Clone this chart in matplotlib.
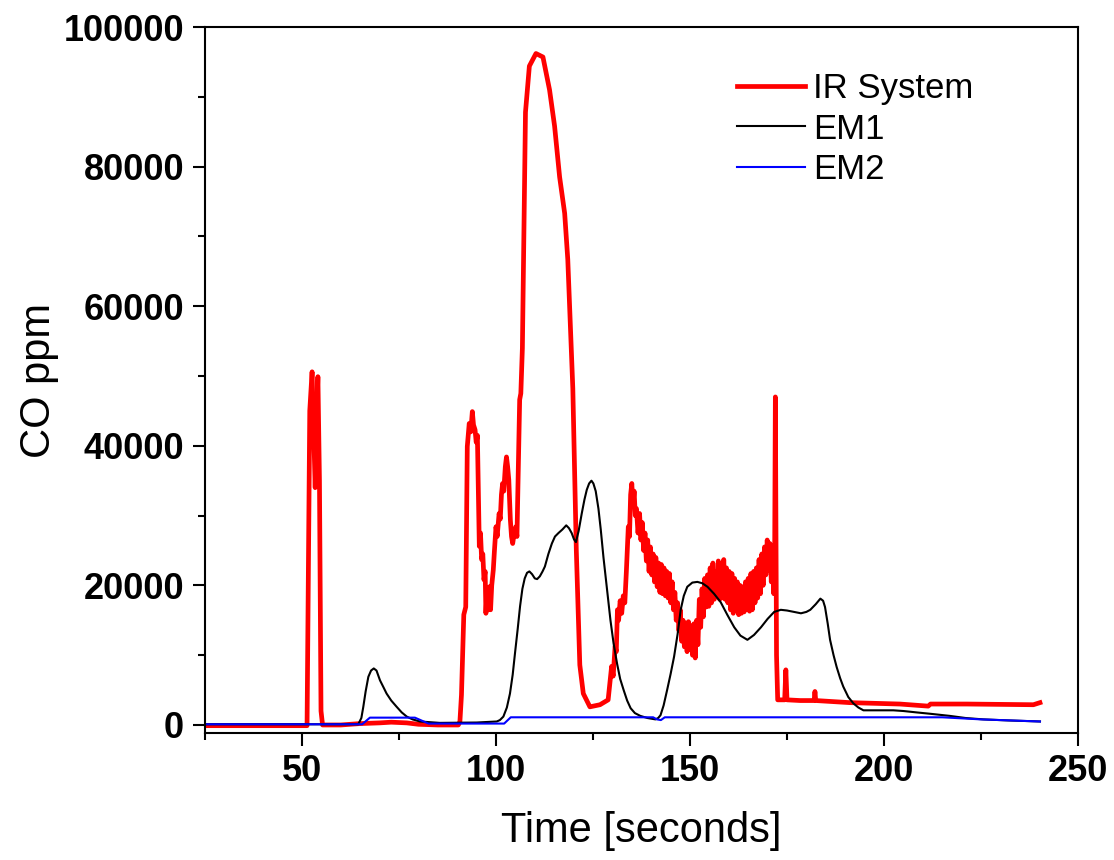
import matplotlib
matplotlib.use("Agg")
import matplotlib.pyplot as plt
from matplotlib.ticker import MultipleLocator

# ---------------- data (time in s, CO in ppm) ----------------
# IR System (values in thousands of ppm)
ir_time = [25, 51.3, 51.6, 52.0, 52.6, 53.0, 53.4, 53.8, 54.1, 54.5,
           54.9, 55.3, 60, 65, 70, 73, 77, 80, 85, 90.3,
           90.7, 91.1, 91.7, 92.2, 92.6, 93.1, 93.5, 93.9, 94.2, 94.6,
           94.9, 95.2, 95.7, 96.0, 96.3, 96.6, 96.9, 97.2, 97.4, 97.7,
           98.0, 98.3, 98.6, 98.9, 99.3, 99.6, 100.0, 100.3, 100.8, 101.1,
           101.4, 101.7, 102.0, 102.4, 102.7, 103.0, 103.3, 103.7, 104.0, 104.3,
           104.7, 105.1, 105.4, 105.7, 106.1, 106.4, 106.8, 107.6, 108.6, 110.3,
           112.1, 113.8, 115.1, 116.4, 117.7, 118.5, 119.8, 120.7, 121.6, 122.5,
           124.2, 126.8, 128.9, 129.8, 130.2, 130.7, 131.0, 131.3, 131.6, 132.0,
           132.4, 132.8, 133.2, 133.6, 134.1, 134.4, 134.7, 135.0, 135.3, 135.6,
           135.9, 136.2, 136.6,
           137.0, 137.35, 137.7, 138.05, 138.4, 138.75, 139.1, 139.45, 139.8, 140.15,
           140.5, 140.85, 141.2, 141.55, 141.9, 142.25, 142.6, 142.95, 143.3, 143.65,
           144.0, 144.35, 144.7, 145.05, 145.4, 145.75, 146.1, 146.45, 146.8, 147.15,
           147.5, 147.85, 148.2, 148.55, 148.9, 149.25, 149.6, 149.95, 150.3, 150.65,
           151.0, 151.35, 151.7, 152.05, 152.4, 152.75, 153.1, 153.45, 153.8, 154.15,
           154.5, 154.85, 155.2, 155.55, 155.9, 156.25, 156.6, 156.95, 157.3, 157.65,
           158.0, 158.35, 158.7, 159.05, 159.4, 159.75, 160.1, 160.45, 160.8, 161.15,
           161.5, 161.85, 162.2, 162.55, 162.9, 163.25, 163.6, 163.95, 164.3, 164.65,
           165.0, 165.35, 165.7, 166.05, 166.4, 166.75, 167.1, 167.45, 167.8, 168.15,
           168.5, 168.85, 169.2, 169.55, 169.9, 170.25, 170.6, 170.95, 171.3, 171.6,
           171.8, 172.0, 172.3, 172.6, 174.4, 174.7, 175.0, 178.4, 182.0, 182.2,
           182.4, 191.2, 204.1, 211.4, 212.0, 221.3, 238.5, 240.2]
ir_co_k = [-0.1, -0.1, 20, 45, 50.6, 42, 34, 45, 49.9, 35,
           2, 0, 0, 0.2, 0.3, 0.4, 0.3, 0.1, 0, 0,
           0.5, 4.3, 15.8, 16.9, 39.9, 43.2, 42.0, 44.9, 43.0, 42.3,
           40.5, 41.5, 25.6, 27.5, 23.7, 24.5, 20.8, 22.0, 16.0, 19.5,
           16.5, 19.8, 16.5, 20.0, 22.2, 25.0, 28.4, 27.0, 30.3, 29.5,
           33.0, 34.6, 33.5, 37.0, 38.4, 37.0, 35.1, 29.4, 27.0, 26.0,
           27.5, 28.4, 27.0, 35.1, 46.6, 47.5, 54.0, 87.8, 94.4, 96.2,
           95.7, 91.0, 85.8, 78.5, 73.3, 66.7, 48.2, 25.0, 8.6, 4.5,
           2.6, 2.9, 3.6, 8.4, 7.0, 11.3, 10.5, 16.5, 15.0, 17.8,
           16.0, 18.5, 17.5, 22.0, 28.4, 27.0, 33.0, 34.6, 31.5, 33.5,
           30.0, 31.0, 27.5,
           30.3, 26.5, 29.0, 25.0, 27.5, 23.5, 26.5, 22.0, 25.5, 21.5,
           24.5, 20.5, 24.0, 19.8, 23.2, 19.0, 23.0, 18.8, 22.5, 18.5,
           22.0, 18.2, 21.7, 17.5, 20.5, 16.5, 19.0, 15.0, 17.5, 13.5,
           16.5, 12.0, 15.0, 11.2, 14.6, 10.5, 14.8, 10.8, 14.2, 10.0,
           14.5, 9.6, 15.0, 11.5, 18.0, 14.0, 19.5, 15.5, 21.0, 16.9,
           21.5, 17.0, 22.5, 17.5, 23.2, 18.0, 22.0, 18.5, 23.5, 18.0,
           22.5, 18.2, 23.7, 18.0, 22.5, 17.5, 22.0, 16.5, 21.7, 16.0,
           21.0, 16.5, 20.5, 15.8, 20.0, 16.0, 19.8, 16.2, 20.5, 16.5,
           21.0, 16.3, 21.7, 16.5, 22.0, 17.5, 22.5, 18.2, 23.7, 18.8,
           24.5, 20.0, 25.5, 21.5, 26.5, 22.2, 26.0, 20.5, 25.0, 18.8,
           22.0, 47.0, 10.0, 3.6, 3.6, 7.9, 3.6, 3.5, 3.5, 4.8,
           3.5, 3.2, 3.0, 2.7, 3.0, 3.0, 2.9, 3.2]

# EM1 (values in thousands of ppm)
em1_time = [25, 64.5, 65.3, 65.8, 66.4, 67.1, 67.8, 68.5, 69.2, 70.1,
            71.0, 71.8, 73.0, 74.4, 75.7, 77.0, 78.5, 80.4, 85.5, 95.0,
            100.2, 101.0, 101.9, 102.8, 103.6, 104.3, 104.9, 105.6, 106.2, 106.8,
            107.4, 108.0, 108.6, 109.3, 110.0, 110.6, 111.3, 112.0, 112.6, 113.5,
            114.4, 115.2, 116.1, 117.1, 118.1, 118.8, 119.5, 120.1, 120.6, 121.3,
            122.1, 122.8, 123.4, 124.0, 124.6, 125.1, 125.7, 126.4, 127.0, 127.7,
            128.6, 129.5, 130.3, 131.2, 132.0, 132.9, 133.8, 134.7, 135.8, 137.2,
            139.0, 141.1, 141.8, 142.4, 143.2, 144.1, 145.0, 145.9, 146.8, 147.6,
            148.4, 149.3, 150.6, 151.9, 153.2, 154.5, 156.2, 157.9, 159.6, 161.4,
            163.0, 164.8, 166.5, 168.3, 170.0, 171.7, 173.4, 175.0, 176.8, 178.6,
            180.0, 181.0, 182.4, 183.6, 184.3, 184.8, 185.5, 186.1, 187.0, 187.8,
            188.7, 189.5, 190.8, 192.1, 193.4, 194.7, 198.0, 202.4, 205.0, 208.4,
            212.0, 217.0, 221.0, 225.6, 232.0, 240.2]
em1_co_k = [0.1, 0.1, 1.0, 2.6, 4.8, 6.9, 7.8, 8.1, 7.8, 6.4,
            5.4, 4.5, 3.5, 2.6, 1.8, 1.2, 0.8, 0.5, 0.3, 0.35,
            0.5, 0.7, 1.2, 2.5, 4.5, 7.2, 10.3, 13.8, 17.0, 19.5,
            21.0, 21.8, 22.0, 21.6, 21.0, 20.9, 21.3, 22.0, 22.7, 24.5,
            26.0, 27.0, 27.5, 28.0, 28.6, 28.2, 27.5, 26.6, 26.2, 27.8,
            30.3, 32.3, 33.7, 34.6, 35.0, 34.6, 33.5, 31.0, 28.0, 24.0,
            19.5, 15.0, 11.7, 8.8, 6.6, 5.0, 3.5, 2.4, 1.7, 1.3,
            1.0, 0.8, 1.0, 1.4, 2.8, 5.0, 7.3, 9.8, 13.0, 16.5,
            18.5, 19.8, 20.4, 20.5, 20.3, 19.8, 18.8, 17.6, 15.8, 14.0,
            12.8, 12.2, 12.9, 14.0, 15.2, 16.2, 16.5, 16.4, 16.2, 16.0,
            16.2, 16.5, 17.3, 18.1, 17.8, 16.9, 14.5, 12.2, 10.0, 8.3,
            6.7, 5.5, 4.0, 3.1, 2.5, 2.1, 2.1, 2.1, 2.0, 1.8,
            1.6, 1.3, 1.0, 0.8, 0.65, 0.5]

# EM2 (values in thousands of ppm)
em2_time = [25, 65.5, 67.5, 79.1, 82.6, 102.1, 103.8, 140.5, 141.5, 142.5,
            143.5, 215, 225, 240.2]
em2_co_k = [0.1, 0.1, 1.05, 1.05, 0.2, 0.2, 1.1, 1.1, 0.8, 0.7,
            1.1, 1.1, 0.8, 0.5]

x_ticks = [50, 100, 150, 200, 250]
y_ticks = [0, 20000, 40000, 60000, 80000, 100000]
labels = ["IR System", "EM1", "EM2"]

ir_co = [v * 1000 for v in ir_co_k]
em1_co = [v * 1000 for v in em1_co_k]
em2_co = [v * 1000 for v in em2_co_k]

# ---------------- figure ----------------
plt.rcParams['font.family'] = ['Liberation Sans', 'DejaVu Sans']
fig = plt.figure(figsize=(11.14, 8.6), dpi=100)
ax = fig.add_axes([205 / 1114, 1 - 733 / 860, (1078 - 205) / 1114, (733 - 27) / 860])

ax.plot(ir_time, ir_co, color='#ff0000', lw=3.4, label=labels[0], solid_joinstyle='round')
ax.plot(em1_time, em1_co, color='black', lw=1.5, label=labels[1])
ax.plot(em2_time, em2_co, color='#0000ff', lw=1.5, label=labels[2])

ax.set_xlim(25, 250)
ax.set_ylim(-1150, 100000)
ax.set_xticks(x_ticks)
ax.set_yticks(y_ticks)
ax.xaxis.set_minor_locator(MultipleLocator(25))
ax.yaxis.set_minor_locator(MultipleLocator(10000))
ax.tick_params(which='major', direction='out', length=9, width=1.5, labelsize=26, pad=6)
ax.tick_params(which='minor', direction='out', length=5, width=1.5)
for lab in ax.get_xticklabels() + ax.get_yticklabels():
    lab.set_fontweight('bold')
for sp in ax.spines.values():
    sp.set_linewidth(1.5)

ax.set_xlabel("Time [seconds]", fontsize=30, labelpad=16)
ax.set_ylabel("CO ppm", fontsize=30, labelpad=3)

leg = ax.legend(loc='upper left', bbox_to_anchor=(737 / 1114, 1 - 72 / 860),
                bbox_transform=fig.transFigure, frameon=False, fontsize=25,
                handlelength=1.95, handletextpad=0.25, labelspacing=0.22,
                borderpad=0, borderaxespad=0)

fig.savefig("out.png", dpi=100)
